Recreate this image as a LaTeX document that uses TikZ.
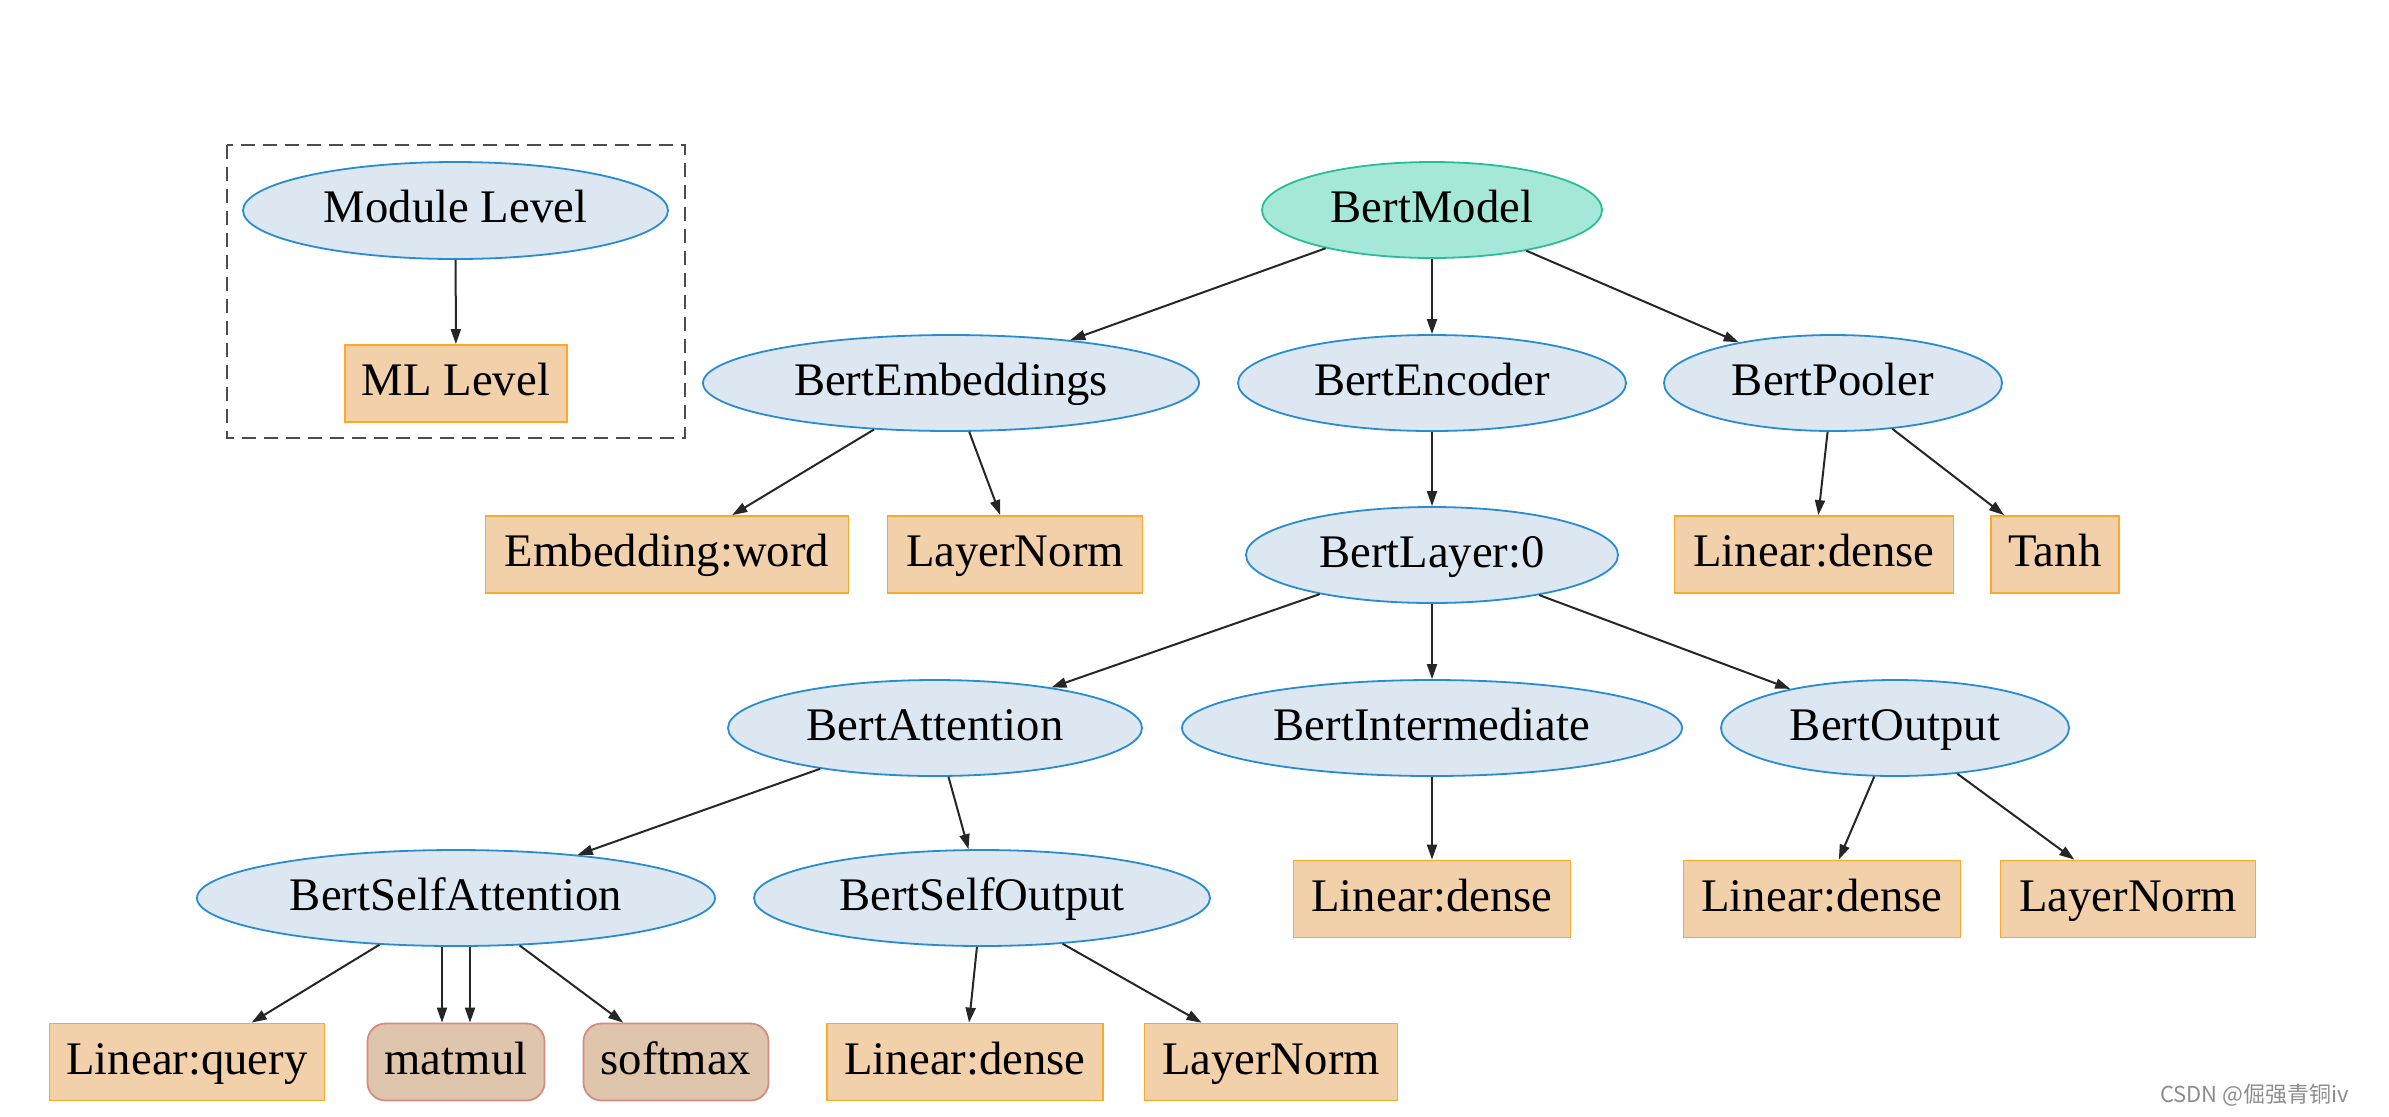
\documentclass[tikz,border=0pt]{standalone}
\usepackage{fontspec}
\setmainfont{Liberation Serif}
\newfontfamily\cjkfont{Noto Sans CJK SC}
\usetikzlibrary{shapes.geometric,arrows.meta}

\definecolor{modfill}{RGB}{220,231,242}
\definecolor{moddraw}{RGB}{40,140,210}
\definecolor{rootfill}{RGB}{165,232,216}
\definecolor{rootdraw}{RGB}{40,190,150}
\definecolor{mlfill}{RGB}{242,208,170}
\definecolor{mldraw}{RGB}{250,170,40}
\definecolor{opfill}{RGB}{224,197,173}
\definecolor{opdraw}{RGB}{210,140,130}

\begin{document}
\begin{tikzpicture}
  [
    x=0.5pt, y=-0.5pt,
    >={Triangle[length=7.5pt,width=5pt]},
    every node/.style = {font=\fontsize{23.35}{28}\selectfont},
    label/.style  = {text height=18pt, text depth=5.6pt},
    module/.style = {label, draw=moddraw, fill=modfill, ellipse, line width=0.9pt,
                     inner sep=0pt, minimum height=48pt},
    root/.style   = {module, draw=rootdraw, fill=rootfill},
    mlbox/.style  = {label, draw=mldraw, fill=mlfill, rectangle, line width=0.9pt,
                     inner sep=0pt, minimum height=38.5pt},
    opbox/.style  = {mlbox, draw=opdraw, fill=opfill, rounded corners=9pt},
    edge/.style   = {->, line width=1pt, black!85},
  ]

%page size
\useasboundingbox (0,0) rectangle (2389,1116);

%legend
\draw[line width=1pt, black!70, dash pattern=on 7pt off 4pt] (227,145) rectangle (685,438);
\node[module, minimum width=212.5pt, minimum height=48.5pt] (modlvl) at (455.5,210.5) {Module Level};
\node[mlbox, minimum width=111pt] (mllvl) at (456,383.5) {ML Level};

%top levels
\node[root, minimum width=170pt] (bert) at (1432,210) {BertModel};
\node[module, minimum width=248pt] (emb) at (951,383) {BertEmbeddings};
\node[module, minimum width=194pt] (enc) at (1432,383) {BertEncoder};
\node[module, minimum width=169pt] (pool) at (1833,383) {BertPooler};

\node[mlbox, minimum width=181.5pt] (word) at (667,554.5) {Embedding:word};
\node[mlbox, minimum width=127.5pt] (embln) at (1015,554.5) {LayerNorm};
\node[module, minimum width=186pt] (layer) at (1432,555) {BertLayer:0};
\node[mlbox, minimum width=139.5pt] (pooldense) at (1814,554.5) {Linear:dense};
\node[mlbox, minimum width=64pt] (tanh) at (2055,554.5) {Tanh};

%layer
\node[module, minimum width=207pt] (att) at (935,728) {BertAttention};
\node[module, minimum width=250pt] (inter) at (1432,728) {BertIntermediate};
\node[module, minimum width=174pt] (out) at (1895,728) {BertOutput};

\node[module, minimum width=259pt] (selfatt) at (456,898) {BertSelfAttention};
\node[module, minimum width=228pt] (selfout) at (982,898) {BertSelfOutput};
\node[mlbox, minimum width=138.5pt] (interdense) at (1432,899) {Linear:dense};
\node[mlbox, minimum width=138.5pt] (outdense) at (1822,899) {Linear:dense};
\node[mlbox, minimum width=127.5pt] (outln) at (2128,899) {LayerNorm};

%bottom row
\node[mlbox, minimum width=137.5pt] (query) at (187,1062) {Linear:query};
\node[opbox, minimum width=88.5pt] (matmul) at (456,1062) {matmul};
\node[opbox, minimum width=92.5pt] (softmax) at (676,1062) {softmax};
\node[mlbox, minimum width=138pt] (sodense) at (965,1062) {Linear:dense};
\node[mlbox, minimum width=126.5pt] (soln) at (1271,1062) {LayerNorm};

%edges
\foreach \a/\b in {modlvl/mllvl, bert/emb, bert/enc, bert/pool, emb/word, emb/embln,
                   enc/layer, pool/pooldense, pool/tanh, layer/att, layer/inter, layer/out,
                   att/selfatt, att/selfout, inter/interdense, out/outdense, out/outln,
                   selfatt/query, selfatt/softmax, selfout/sodense, selfout/soln}
{
\draw[edge] (\a) -- (\b);
}
\foreach \s in {-7pt,7pt}
{
\draw[edge] ([xshift=\s]selfatt.south) -- ([xshift=\s]matmul.north);
}

%watermark
\node[anchor=east, text=black!45, font=\cjkfont\fontsize{11}{13}\selectfont] (mark) at (2356,1095) {CSDN @倔强青铜iv};
\end{tikzpicture}
\end{document}
